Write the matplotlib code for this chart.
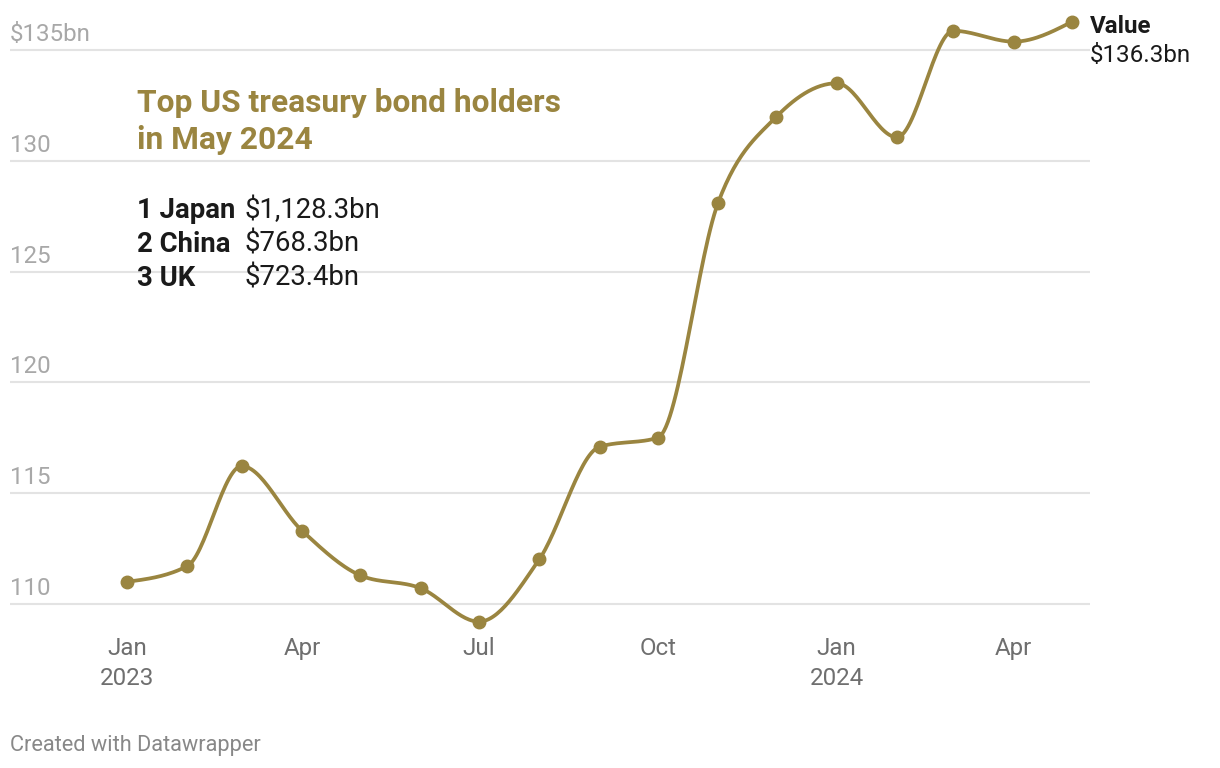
import numpy as np
import matplotlib
matplotlib.use('Agg')
import matplotlib.pyplot as plt
import matplotlib.dates as mdates

plt.rcParams['font.family'] = ['Roboto', 'DejaVu Sans']

# monthly holdings, $bn
months = ['2023-01', '2023-02', '2023-03', '2023-04', '2023-05', '2023-06',
          '2023-07', '2023-08', '2023-09', '2023-10', '2023-11', '2023-12',
          '2024-01', '2024-02', '2024-03', '2024-04', '2024-05']
values = [110.99, 111.70, 116.22, 113.30, 111.28, 110.70, 109.19, 112.0,
          117.09, 117.50, 128.12, 132.01, 133.52, 131.08, 135.89, 135.40, 136.3]

yticks = [110, 115, 120, 125, 130, 135]
ytick_labels = ['110', '115', '120', '125', '130', '$135bn']
xtick_months = ['2023-01', '2023-04', '2023-07', '2023-10', '2024-01', '2024-04']
xtick_labels = ['Jan\n2023', 'Apr', 'Jul', 'Oct', 'Jan\n2024', 'Apr']

ranking = ['1 Japan', '2 China', '3 UK']
ranking_values = ['$1,128.3bn', '$768.3bn', '$723.4bn']

GOLD = '#9a8540'
W, H = 1220, 768


def monotone_x(x, y, n=30):
    # d3 curveMonotoneX style smoothing for drawing the line
    x = np.asarray(x, float)
    y = np.asarray(y, float)
    h = np.diff(x)
    s = np.diff(y) / h
    t = np.zeros(len(x))
    for i in range(1, len(x) - 1):
        p = (s[i - 1] * h[i] + s[i] * h[i - 1]) / (h[i - 1] + h[i])
        t[i] = (np.sign(s[i - 1]) + np.sign(s[i])) * min(abs(s[i - 1]), abs(s[i]), 0.5 * abs(p))
    t[0] = (3 * s[0] - t[1]) / 2
    t[-1] = (3 * s[-1] - t[-2]) / 2
    xs, ys = [], []
    for i in range(len(x) - 1):
        u = np.linspace(0, 1, n, endpoint=False)
        h00 = 2 * u**3 - 3 * u**2 + 1
        h10 = u**3 - 2 * u**2 + u
        h01 = -2 * u**3 + 3 * u**2
        h11 = u**3 - u**2
        xs.append(x[i] + u * h[i])
        ys.append(h00 * y[i] + h10 * h[i] * t[i] + h01 * y[i + 1] + h11 * h[i] * t[i + 1])
    xs.append([x[-1]])
    ys.append([y[-1]])
    return np.concatenate(xs), np.concatenate(ys)


dates = mdates.date2num(np.array(months, dtype='datetime64[D]'))
xt = mdates.date2num(np.array(xtick_months, dtype='datetime64[D]'))

fig = plt.figure(figsize=(W / 100, H / 100), dpi=100)

# axes box in pixels: x 10..1090, y 10..630 (top-down)
ax = fig.add_axes([10 / W, 1 - 630 / H, 1080 / W, 620 / H])
ppd = 945 / (dates[-1] - dates[0])
ax.set_xlim(dates[0] - 117 / ppd, dates[-1] + 18 / ppd)
ppu = 22.13
ax.set_ylim(110 - (630 - 603.7) / ppu, 135 + (50.5 - 10) / ppu)

for s in ax.spines.values():
    s.set_visible(False)
ax.set_yticks([])
ax.set_xticks([])
for v, lab in zip(yticks, ytick_labels):
    ax.axhline(v, color='#e3e3e3', lw=1.5, zorder=0)
    ax.annotate(lab, (0, v), xycoords=('axes fraction', 'data'),
                xytext=(0, 3), textcoords='offset points', ha='left', va='bottom',
                fontsize=17.4, color='#a8a8a8')

for x, lab in zip(xt, xtick_labels):
    ax.annotate(lab, (x, 0), xycoords=('data', 'axes fraction'), xytext=(0, -5),
                textcoords='offset points', ha='center', va='top', fontsize=17.4,
                color='#6f6f6f', linespacing=1.38)

cx, cy = monotone_x(dates, values)
ax.plot(cx, cy, color=GOLD, lw=2.7, solid_capstyle='round', clip_on=False, zorder=3)
ax.plot(dates, values, 'o', color=GOLD, ms=9, clip_on=False, zorder=4)

# end label
ax.annotate('Value', (dates[-1], values[-1]), xytext=(13, -3.6), textcoords='offset points',
            ha='left', va='center', fontsize=17.4, fontweight='bold', color='#1a1a1a')
ax.annotate('$' + f'{values[-1]:.1f}bn', (dates[-1], values[-1]), xytext=(13, -24),
            textcoords='offset points', ha='left', va='center', fontsize=17.4, color='#1a1a1a')


def fx(px):
    return px / W


def fy(py):
    return 1 - py / H


fig.text(fx(137), fy(103), 'Top US treasury bond holders', fontsize=22.9, fontweight='bold',
         color=GOLD, va='center', ha='left')
fig.text(fx(137), fy(140), 'in May 2024', fontsize=22.9, fontweight='bold',
         color=GOLD, va='center', ha='left')
for i, (name, val) in enumerate(zip(ranking, ranking_values)):
    y = 210 + 34 * i
    fig.text(fx(137), fy(y), name, fontsize=19.8, fontweight='bold', color='#1a1a1a',
             va='center', ha='left')
    fig.text(fx(244), fy(y), val, fontsize=19.8, color='#1a1a1a', va='center', ha='left')

fig.text(fx(10), fy(745), 'Created with Datawrapper', fontsize=15.7, color='#888888',
         va='center', ha='left')

fig.savefig('out.png', dpi=100, facecolor='white')
